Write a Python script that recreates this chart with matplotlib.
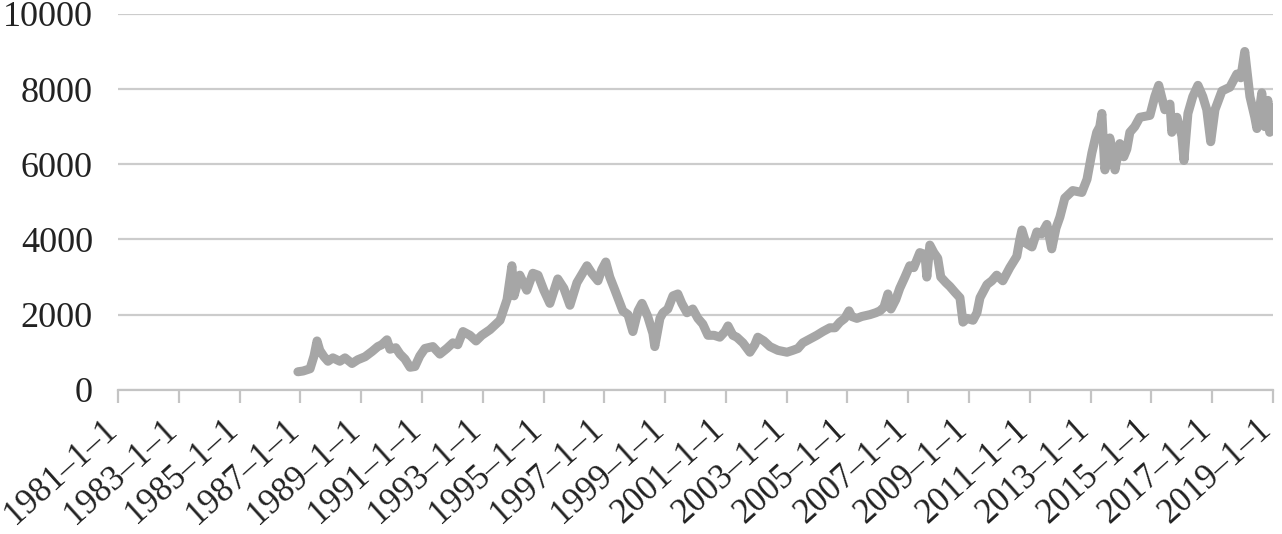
import matplotlib
matplotlib.use("Agg")
import matplotlib.pyplot as plt

# Decimal years and index values
years = [1986.92, 1987.09, 1987.32, 1987.45, 1987.55, 1987.64, 1987.78, 1987.91,
         1988.07, 1988.30, 1988.47, 1988.70, 1988.89, 1989.13, 1989.36, 1989.55,
         1989.68, 1989.85, 1989.95, 1990.14, 1990.28, 1990.44, 1990.61, 1990.77,
         1990.93, 1991.10, 1991.36, 1991.59, 1991.82, 1992.02, 1992.18, 1992.35,
         1992.58, 1992.78, 1992.97, 1993.24, 1993.57, 1993.80, 1993.89, 1993.96,
         1994.03, 1994.22, 1994.45, 1994.65, 1994.82, 1995.01, 1995.21, 1995.47,
         1995.67, 1995.87, 1996.10, 1996.43, 1996.59, 1996.79, 1996.92, 1997.05,
         1997.18, 1997.35, 1997.61, 1997.78, 1997.94, 1998.11, 1998.24, 1998.43,
         1998.60, 1998.66, 1998.83, 1998.93, 1999.09, 1999.26, 1999.42, 1999.55,
         1999.72, 1999.91, 2000.08, 2000.24, 2000.41, 2000.61, 2000.80, 2000.97,
         2001.07, 2001.23, 2001.36, 2001.56, 2001.79, 2001.95, 2002.05, 2002.25,
         2002.45, 2002.71, 2003.01, 2003.20, 2003.37, 2003.53, 2003.76, 2003.99,
         2004.19, 2004.42, 2004.59, 2004.75, 2004.91, 2005.05, 2005.14, 2005.31,
         2005.47, 2005.74, 2005.93, 2006.07, 2006.20, 2006.33, 2006.43, 2006.59,
         2006.72, 2006.89, 2007.05, 2007.18, 2007.38, 2007.55, 2007.61, 2007.71,
         2007.84, 2007.97, 2008.07, 2008.24, 2008.37, 2008.53, 2008.70, 2008.80,
         2008.93, 2009.13, 2009.26, 2009.36, 2009.59, 2009.75, 2009.91, 2010.11,
         2010.34, 2010.57, 2010.67, 2010.74, 2010.87, 2011.07, 2011.23, 2011.39,
         2011.56, 2011.66, 2011.72, 2011.86, 2011.99, 2012.15, 2012.41, 2012.71,
         2012.88, 2013.04, 2013.20, 2013.30, 2013.37, 2013.43, 2013.47, 2013.63,
         2013.73, 2013.80, 2013.96, 2014.09, 2014.19, 2014.29, 2014.45, 2014.62,
         2014.95, 2015.11, 2015.24, 2015.44, 2015.61, 2015.67, 2015.84, 2016.00,
         2016.07, 2016.20, 2016.36, 2016.53, 2016.69, 2016.82, 2016.95, 2017.09,
         2017.32, 2017.58, 2017.81, 2017.94, 2018.07, 2018.24, 2018.40, 2018.47,
         2018.63, 2018.73, 2018.83, 2018.89, 2018.99, 2019.06]
values = [480, 500, 560, 900, 1300, 1050, 880, 760,
          850, 760, 850, 700, 800, 880, 1020, 1150,
          1200, 1330, 1080, 1120, 950, 820, 600, 620,
          900, 1100, 1150, 950, 1100, 1250, 1200, 1550,
          1450, 1300, 1450, 1600, 1850, 2400, 2900, 3300,
          2500, 3050, 2650, 3100, 3050, 2650, 2300, 2950,
          2700, 2250, 2850, 3300, 3100, 2900, 3200, 3400,
          3000, 2650, 2100, 2000, 1550, 2100, 2300, 1950,
          1500, 1150, 1900, 2050, 2150, 2500, 2550, 2300,
          2050, 2150, 1900, 1750, 1450, 1450, 1400, 1550,
          1700, 1450, 1400, 1250, 1000, 1200, 1400, 1300,
          1150, 1050, 1000, 1050, 1100, 1250, 1350, 1450,
          1550, 1650, 1650, 1800, 1900, 2100, 1950, 1900,
          1950, 2000, 2050, 2100, 2200, 2550, 2150, 2400,
          2700, 3000, 3300, 3250, 3650, 3600, 3000, 3850,
          3650, 3500, 3000, 2850, 2750, 2600, 2450, 1800,
          1900, 1850, 2050, 2450, 2800, 2900, 3050, 2900,
          3250, 3550, 4000, 4250, 3900, 3800, 4200, 4150,
          4400, 4000, 3750, 4300, 4600, 5100, 5300, 5250,
          5600, 6300, 6850, 7000, 7350, 6400, 5850, 6700,
          6300, 5850, 6550, 6200, 6400, 6850, 7000, 7250,
          7300, 7800, 8100, 7450, 7600, 6850, 7250, 6750,
          6100, 7350, 7800, 8100, 7800, 7450, 6600, 7450,
          7950, 8050, 8400, 8300, 9000, 7800, 7250, 6950,
          7900, 7000, 7700, 6850, 7500, 7400]

tick_years = list(range(1981, 2020, 2))
tick_labels = [f"{y}\u20131\u20131" for y in tick_years]
y_ticks = [0, 2000, 4000, 6000, 8000, 10000]

plt.rcParams['font.family'] = ['Liberation Serif', 'DejaVu Serif']

fig = plt.figure(figsize=(12.82, 5.34), dpi=100)
ax = fig.add_axes([0.092, 0.270, 0.901, 0.704])

ax.plot(years, values, color='#a6a6a6', linewidth=6.5,
        solid_joinstyle='round', solid_capstyle='round', zorder=3)

ax.set_xlim(1981, 2019)
ax.set_ylim(0, 10000)
ax.set_yticks(y_ticks)
ax.set_yticklabels([str(v) for v in y_ticks], fontsize=26, color='#222222')
ax.set_xticks(tick_years)
ax.set_xticklabels(tick_labels, fontsize=25, color='#222222',
                   rotation=42, ha='right', va='baseline', rotation_mode='anchor')

ax.grid(axis='y', color='#cccccc', linewidth=1.6, zorder=0)
ax.set_axisbelow(True)
for side in ['top', 'right', 'left']:
    ax.spines[side].set_visible(False)
ax.spines['bottom'].set_color('#c4c4c4')
ax.spines['bottom'].set_linewidth(1.6)
ax.tick_params(axis='y', length=0, pad=18)
ax.tick_params(axis='x', length=9, width=1.6, color='#c4c4c4', pad=21)

fig.savefig('out.png', dpi=100)
